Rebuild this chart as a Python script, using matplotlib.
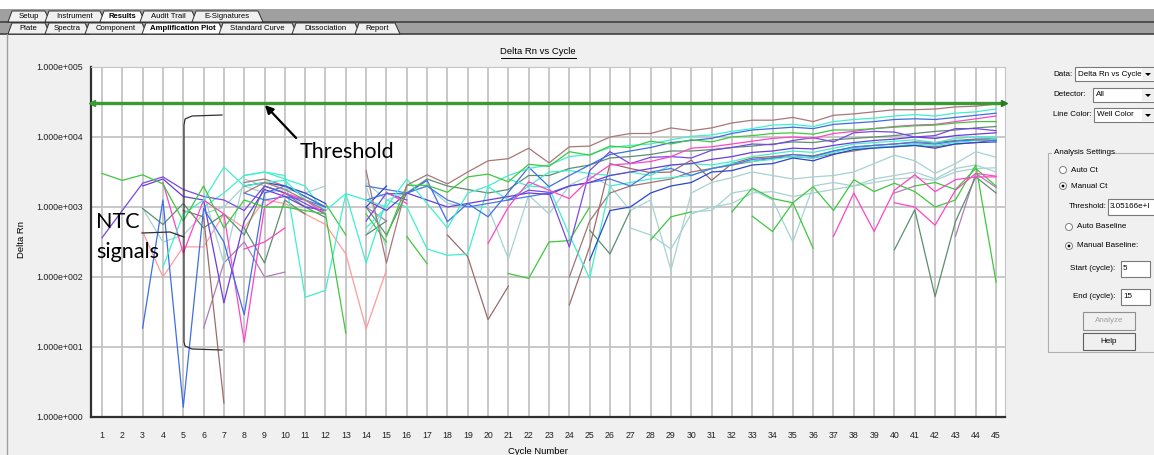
import matplotlib
matplotlib.use("Agg")
import matplotlib.pyplot as plt
import numpy as np
from matplotlib.patches import Rectangle, Polygon, Ellipse
from matplotlib.lines import Line2D

W, H = 1154, 455
UI = ['Liberation Sans', 'DejaVu Sans']
NOTE = ['Lato', 'DejaVu Sans']

# ---- data: log10(Delta Rn) per cycle, None = not drawn (negative after baseline) ----
n = None
cycles = list(range(1, 46))
threshold = 3.05166e4
y_ticks = [1e0, 1e1, 1e2, 1e3, 1e4, 1e5]
y_tick_labels = ['1.000e+000', '1.000e+001', '1.000e+002', '1.000e+003', '1.000e+004', '1.000e+005']

brown_a = [n, n, n, n, n, n, n, 3.2, 3.35, 3.25, 3.1, 2.95, n, 3.52, 2.2,
           3.31, 3.46, 3.33, 3.5, 3.66, 3.69, 3.84, 3.63, 3.86, 3.87, 4.0, 4.05, 4.05, 4.13, 4.09,
           4.13, 4.2, 4.24, 4.24, 4.28, 4.22, 4.31, 4.33, 4.36, 4.39, 4.39, 4.4, 4.43, 4.44, 4.47]
brown_b = [n, n, n, n, 2.95, 2.86, 0.2, n, n, n, n, n, n, n, n,
           n, n, 2.6, 2.29, 1.39, 1.87, n, n, 1.6, 2.43, 3.62, 3.55, 3.49, 3.5, 3.67,
           3.38, 3.62, 3.7, 3.72, 3.75, 3.73, 3.8, 3.85, 3.88, 3.9, 3.93, 3.92, 3.95, 3.97, 3.98]
brown_c = [n, n, n, n, n, n, n, 3.35, 3.4, 3.3, 3.15, 3.0, n, n, n,
           n, n, n, n, n, n, n, n, 2.0, 2.8, 3.2, 3.3, 3.35, 3.4, 3.5,
           3.55, 3.6, 3.65, 3.7, 3.72, 3.7, 3.76, 3.8, 3.85, 3.86, 3.88, 3.86, 3.9, 3.92, 3.96]
green_a = [3.48, 3.38, 3.46, 3.33, 2.8, 3.3, 2.7, 3.1, 3.0, 3.0, 2.95, 2.9, 1.2, n, 2.58,
           3.31, 3.31, 3.21, 3.43, 3.47, 3.36, 3.61, 3.58, 3.79, 3.74, 3.87, 3.85, 3.94, 3.9, 3.96,
           3.93, 4.0, 4.02, 4.05, 4.06, 4.04, 4.1, 4.1, 4.12, 4.14, 4.16, 4.17, 4.2, 4.22, 4.22]
green_c = [n, n, n, n, n, n, n, n, n, n, n, 3.05, 2.6, n, n,
           2.58, 2.19, n, n, n, 2.05, 1.98, 2.5, 2.52, 3.0, n, n, 2.53, 2.86, 2.93,
           n, 2.93, 3.27, 3.12, 3.06, 3.29, 2.95, 3.39, 3.22, 3.34, 3.22, 3.0, 3.1, 3.6, 1.93]
green_d = [n, n, n, n, n, n, n, n, n, n, n, n, n, 2.9, 2.5,
           n, n, n, n, n, n, n, n, n, n, n, n, n, n, n,
           n, n, 2.87, 2.65, 3.06, 2.41, n, n, n, n, 3.3, 3.35, 3.25, 3.55, 3.3]
cyan_a = [n, n, n, 2.14, 2.9, 3.1, 3.57, 3.3, 3.35, 3.38, 3.1, 2.95, 3.19, 3.1, 3.0,
          3.4, 3.05, 2.7, 3.2, 3.3, 3.45, 3.55, 3.6, 3.72, 3.75, 3.85, 3.88, 3.9, 3.96, 4.01,
          4.03, 4.08, 4.12, 4.17, 4.18, 4.15, 4.22, 4.25, 4.27, 4.3, 4.32, 4.3, 4.34, 4.36, 4.4]
cyan_b = [n, n, n, n, n, n, n, 3.45, 3.5, 3.45, 1.71, 1.81, 3.19, 2.2, 3.1,
          3.0, 2.4, 2.31, 2.33, 3.29, 3.1, 3.3, 3.28, 2.6, 1.98, 3.3, 3.35, 3.4, 3.42, 3.45,
          3.55, 3.62, 3.65, 3.68, 3.72, 3.7, 3.78, 3.84, 3.85, 3.87, 3.9, 3.88, 3.92, 3.95, 3.98]
cyan_c = [n, n, n, n, n, 3.0, 3.2, 3.45, 3.5, 3.4, 3.3, 2.9, n, 2.7, 3.0,
          n, n, n, n, n, 3.4, 3.3, 3.5, 3.52, 3.48, 3.45, 3.5, 3.45, 3.6, 3.62,
          3.6, 3.65, 3.72, 3.76, 3.8, 3.78, 3.84, 3.9, 3.92, 3.94, 3.96, 3.92, 3.98, 4.0, 4.0]
blue_a = [n, n, 1.27, 3.1, 0.14, 2.98, 2.5, 1.46, 3.2, 3.3, 3.15, 3.0, n, 3.1, 3.19,
          3.19, 3.38, 2.79, 3.05, 2.86, 3.21, 3.57, 3.29, 3.45, 3.6, 3.75, 3.8, 3.85, 3.92, 3.95,
          3.98, 4.05, 4.1, 4.12, 4.14, 4.12, 4.18, 4.2, 4.22, 4.25, 4.26, 4.25, 4.28, 4.31, 4.34]
blue_b = [n, n, n, n, n, n, n, 3.2, 3.1, 3.15, 3.1, 3.0, n, 3.3, 3.25,
          3.2, 3.3, 3.1, 3.0, 3.05, 3.1, 3.15, 3.2, 3.3, 3.35, 3.4, 3.3, 3.5, 3.55, 3.45,
          3.55, 3.6, 3.68, 3.7, 3.75, 3.72, 3.8, 3.86, 3.88, 3.9, 3.92, 3.9, 3.94, 3.96, 3.95]
dark_blue = [n, n, n, n, n, n, n, 3.3, 3.35, 3.3, 3.2, 3.05, n, 3.0, 3.3,
             n, n, n, n, n, n, n, n, n, 2.24, 2.95, 3.0, 3.2, 3.3, 3.35,
             3.5, 3.52, 3.6, 3.62, 3.7, 3.66, 3.75, 3.82, 3.84, 3.86, 3.88, 3.84, 3.9, 3.92, 3.93]
magenta_a = [n, n, n, 3.35, 2.34, 3.1, 2.9, 1.07, 3.0, 3.2, 3.1, 2.9, n, n, 3.21,
             3.05, n, n, n, 2.48, 3.0, 3.36, 3.24, 3.12, 3.4, 3.6, 3.62, 3.65, 3.72, 3.84,
             3.86, 3.9, 3.94, 3.98, 4.0, 3.98, 4.05, 4.08, 4.12, 4.15, 4.17, 4.18, 4.22, 4.26, 4.3]
magenta_b = [n, n, n, n, n, n, n, 2.4, 2.5, 2.7, n, n, n, n, n,
             n, n, n, n, n, n, n, n, n, n, n, n, n, n, n,
             n, n, n, n, n, n, 2.58, 3.2, 2.65, 3.24, 3.46, 3.22, 3.39, 3.43, 3.43]
magenta_c = [n, n, n, n, n, n, n, n, n, n, n, n, n, n, n,
             n, n, n, n, n, n, n, n, n, n, n, n, n, n, n,
             n, n, n, n, n, n, n, n, n, 3.06, 3.0, 2.74, 3.24, 3.48, 3.44]
purple_a = [2.56, 2.95, 3.34, 3.43, 3.25, 3.15, 3.1, 2.95, 3.3, 3.2, 3.05, 2.9, n, 2.8, 3.2,
            3.1, n, n, n, n, 3.1, 3.24, 3.21, 2.43, 3.52, 3.79, 3.62, 3.71, 3.72, 3.7,
            3.81, 3.85, 3.9, 3.89, 3.95, 3.99, 3.93, 4.06, 4.08, 4.07, 4.0, 4.02, 4.12, 4.12, 4.09]
purple_b = [n, n, 3.3, 3.4, 3.15, 3.1, 1.63, 2.8, 3.25, 3.15, 3.0, 2.95, n, 3.1, 2.95,
            3.2, 3.1, 3.0, 3.05, 3.1, 3.15, 3.2, 3.18, 3.3, 3.35, 3.45, 3.5, 3.55, 3.6, 3.62,
            3.68, 3.72, 3.78, 3.8, 3.84, 3.83, 3.88, 3.92, 3.95, 3.97, 4.0, 3.98, 4.02, 4.04, 4.06]
teal_a = [n, n, 2.98, 2.5, 2.6, 2.9, 3.0, 3.3, 3.2, 3.25, 3.2, 3.3, n, 3.35, 3.1,
          3.2, 3.3, 3.05, 3.0, 3.0, 2.26, 3.17, 2.9, 3.31, 3.45, 3.3, 2.95, 3.1, 2.1, 3.2,
          3.35, 3.42, 3.5, 3.45, 3.4, 3.43, 3.45, 3.5, 3.62, 3.74, 3.66, 3.48, 3.62, 3.79, 3.71]
teal_b = [n, n, n, n, n, 3.2, 2.2, 3.4, 3.3, 3.2, 3.1, n, n, 3.3, 2.4,
          n, n, n, n, n, n, n, n, n, n, n, n, n, n, 2.93,
          2.95, 3.2, 3.25, 3.1, 2.5, 3.3, 3.35, 3.3, 3.4, 3.45, 3.5, 3.4, 3.55, 3.6, 3.5]
teal_c = [n, n, n, n, n, n, n, n, n, n, n, n, n, 2.6, 3.0,
          n, n, n, n, n, n, n, n, n, n, n, 2.7, 2.6, 2.4, 2.9,
          3.0, 3.05, 3.2, 3.22, 3.15, 3.2, 3.25, 3.3, 3.35, 3.4, 3.42, 3.38, 3.5, 3.55, 3.56]
dkgreen_a = [n, n, 2.98, 2.75, 3.05, 2.7, 2.9, 2.6, 3.3, 3.2, 3.0, 2.85, n, 3.0, 2.6,
             3.2, 3.4, 3.3, 3.25, 3.2, 3.25, 3.45, 3.45, 3.55, 3.6, 3.7, 3.72, 3.75, 3.8, 3.8,
             3.82, 3.85, 3.87, 3.9, 3.93, 3.92, 3.96, 3.98, 4.0, 4.02, 4.05, 4.08, 4.1, 4.13, 4.15]
dkgreen_b = [n, n, n, n, n, n, n, 2.7, 2.2, 3.1, 2.9, n, n, 2.6, 2.8,
             n, n, n, n, n, n, n, n, n, 2.67, 2.33, 2.95, n, n, n,
             n, n, n, n, n, n, n, n, n, 2.39, 2.96, 1.72, 2.79, 3.43, 3.2]
salmon = [n, n, 2.65, 2.0, 2.43, 2.43, 2.9, 2.7, 3.1, 3.05, 2.9, 2.75, 2.33, 1.26, 2.1,
          n, n, n, n, n, n, n, n, n, n, n, n, n, n, n,
          n, n, n, n, n, n, n, n, n, n, n, n, n, n, n]
mauve = [n, n, n, n, n, 1.27, 2.2, 2.5, 2.0, 2.07, n, n, n, 3.0, 2.8,
         n, n, n, n, n, n, n, n, n, n, n, n, n, n, n,
         n, n, n, n, n, n, n, n, n, 3.2, 3.3, n, 2.58, 3.48, 3.28]

wells = [
    (salmon, '#ff9a9a'), (mauve, '#b07ab8'), (teal_a, '#a6d2d2'), (teal_b, '#a6d2d2'),
    (teal_c, '#a6d2d2'), (dkgreen_a, '#5c8e70'), (dkgreen_b, '#5c8e70'), (green_c, '#3ec83e'),
    (green_d, '#3ec83e'), (brown_b, '#9c6c6c'), (brown_c, '#a07474'), (cyan_b, '#3ff0cc'),
    (cyan_c, '#3ff0cc'), (blue_b, '#4a78e6'), (dark_blue, '#2a46cc'), (purple_b, '#6a3cdc'),
    (purple_a, '#7848e6'), (magenta_b, '#ff44c8'), (magenta_c, '#ff44c8'), (magenta_a, '#ff44c8'),
    (blue_a, '#3c6ee6'), (cyan_a, '#3ff0cc'), (green_a, '#3ec83e'), (brown_a, '#a87878'),
]


def fx(x):
    return x / W


def fy(y):
    return 1 - y / H


def box(x0, y0, x1, y1, fc='white', ec='#7a7a7a', lw=0.8, z=1):
    fig.add_artist(Rectangle((fx(x0), fy(y1)), fx(x1) - fx(x0), fy(y0) - fy(y1),
                             transform=fig.transFigure, fc=fc, ec=ec, lw=lw, zorder=z))


def line(xs, ys, color='#404040', lw=1.0, z=3):
    fig.add_artist(Line2D([fx(v) for v in xs], [fy(v) for v in ys], transform=fig.transFigure,
                          color=color, lw=lw, zorder=z))


def label(x, y, s, size=5.8, ha='left', va='center', color='black', weight='normal', family=UI, z=5, **kw):
    fig.text(fx(x), fy(y), s, fontsize=size, ha=ha, va=va, color=color, fontweight=weight,
             family=family, zorder=z, **kw)


def dot(x, y, r, fc, ec='none', z=3):
    fig.add_artist(Ellipse((fx(x), fy(y)), 2 * r / W, 2 * r / H, transform=fig.transFigure,
                           fc=fc, ec=ec, lw=0.7, zorder=z))


fig = plt.figure(figsize=(W / 100, H / 100), dpi=100, facecolor='#f0f0f0')

# ---- tab strip ----
box(0, 0, W, 9, fc='white', ec='none', lw=0, z=0)
box(0, 9, W, 34, fc='#a0a0a0', ec='none', lw=0, z=0)
line([0, W], [22, 22], color='#404040', lw=1.2, z=1)
line([0, W], [34, 34], color='#404040', lw=1.2, z=1)
row1 = [('Setup', 8, 45), ('Instrument', 45, 100), ('Results', 100, 140),
        ('Audit Trail', 140, 192), ('E-Signatures', 192, 258)]
row2 = [('Plate', 8, 45), ('Spectra', 45, 85), ('Component', 85, 142), ('Amplification Plot', 142, 219),
        ('Standard Curve', 219, 292), ('Dissociation', 292, 355), ('Report', 355, 395)]
for tabs, (yt, yb), bold in [(row1, (11, 22), 'Results'), (row2, (23, 34), 'Amplification Plot')]:
    for name, x0, x1 in tabs:
        sel = name == bold
        fig.add_artist(Polygon([(fx(x0), fy(yb)), (fx(x0 + 4), fy(yt)), (fx(x1), fy(yt)), (fx(x1 + 5), fy(yb))],
                               closed=True, transform=fig.transFigure,
                               fc='white' if sel else '#f0f0f0', ec='#303030', lw=0.7, zorder=2))
        label((x0 + x1) / 2 + 2, (yt + yb) / 2 + 0.5, name, size=5.6, ha='center',
              weight='bold' if sel else 'normal')

# panel frame
line([7, 7], [34, H], color='#a0a0a0', lw=1.0, z=1)

# ---- plot ----
ax = fig.add_axes([fx(91), fy(417), (1005 - 91) / W, (417 - 67) / H])
ax.set_facecolor('white')
for vals, col in wells:
    arr = np.array([np.nan if v is None else v for v in vals], dtype=float)
    ax.plot(cycles, 10 ** arr, color=col, lw=0.9, zorder=3)

ax.axhline(threshold, color='#3a9a34', lw=2.4, zorder=5)
ax.plot([0.52], [threshold], marker='<', color='#3a9a34', ms=4, zorder=6, clip_on=False)
ax.plot([45.4], [threshold], marker='>', color='#2a7a24', ms=4, zorder=6, clip_on=False)

ax.set_yscale('log')
ax.set_ylim(1, 1e5)
ax.set_xlim(0.46, 45.44)
ax.set_xticks(cycles)
ax.set_xticklabels([str(c) for c in cycles])
ax.set_yticks(y_ticks)
ax.set_yticklabels(y_tick_labels)
ax.yaxis.set_minor_locator(plt.NullLocator())
ax.tick_params(length=0, labelsize=6.3, colors='#202020')
ax.tick_params(axis='x', pad=10)
ax.tick_params(axis='y', pad=6)
for t in ax.get_xticklabels() + ax.get_yticklabels():
    t.set_family(UI)
ax.grid(True, color='#c4c4c4', lw=1.3, zorder=1)
ax.set_axisbelow(True)
for side in ['top', 'right']:
    ax.spines[side].set_color('#c4c4c4')
for side in ['left', 'bottom']:
    ax.spines[side].set_color('#303030')
    ax.spines[side].set_linewidth(1.6)

label(538, 52, 'Delta Rn vs Cycle', size=6.8, ha='center')
line([501, 576], [57.5, 57.5], color='black', lw=0.7)
label(22, 240, 'Delta Rn', size=6.8, ha='center', rotation=90)
label(538, 451, 'Cycle Number', size=6.8, ha='center')

# ---- annotations ----
label(300, 152, 'Threshold', size=15.5, family=NOTE)
ax.annotate('', xy=(fx(263), fy(103)), xycoords='figure fraction',
            xytext=(fx(298), fy(140)), textcoords='figure fraction',
            arrowprops=dict(arrowstyle='-|>', color='black', lw=1.6, mutation_scale=12))
label(96, 222, 'NTC', size=15.5, family=NOTE)
label(96, 252, 'signals', size=15.5, family=NOTE)
line([222, 192, 185, 184, 184, 185, 192, 222], [115, 116, 119, 125, 342, 346, 349, 350],
     color='#303030', lw=0.9, z=7)
line([142, 170, 184], [233, 232, 237], color='#303030', lw=0.9, z=7)

# ---- right panel ----
for y, lab in [(74, 'Data:'), (95, 'Detector:'), (115, 'Line Color:')]:
    label(1053, y, lab)
for y0, x0, val in [(67, 1075, 'Delta Rn vs Cycle'), (88, 1093, 'All'), (108, 1094, 'Well Color')]:
    box(x0, y0, 1160, y0 + 14, fc='white', ec='#7a7a7a', z=2)
    label(x0 + 3, y0 + 7, val)
    box(1142, y0 + 1, 1160, y0 + 13, fc='#f0f0f0', ec='none', z=3)
    fig.add_artist(Polygon([(fx(1145), fy(y0 + 6)), (fx(1151), fy(y0 + 6)), (fx(1148), fy(y0 + 9))],
                           closed=True, transform=fig.transFigure, fc='black', ec='none', zorder=4))

box(1048, 153, 1160, 352, fc='none', ec='#b0b0b0', z=1)
box(1052, 148, 1113, 158, fc='#f0f0f0', ec='none', z=2)
label(1054, 153, 'Analysis Settings')
radios = [(170, 1063, 'Auto Ct', False), (186, 1063, 'Manual Ct', True),
          (227, 1069, 'Auto Baseline', False), (246, 1069, 'Manual Baseline:', True)]
for y, x, txt, on in radios:
    dot(x, y, 3.5, 'white', ec='#808080')
    if on:
        dot(x, y, 1.4, 'black', z=4)
    label(x + 8, y, txt)
label(1069, 207, 'Threshold:')
box(1108, 199, 1160, 215, z=2)
label(1110, 207, '3.05166e+I')
label(1070, 269, 'Start (cycle):')
box(1121, 261, 1150, 277, z=2)
label(1123, 269, '5')
label(1073, 297, 'End (cycle):')
box(1121, 289, 1150, 305, z=2)
label(1123, 297, '15')
box(1083, 312, 1135, 330, fc='#f0f0f0', ec='#909090', z=2)
label(1109, 321, 'Analyze', ha='center', color='#a0a0a0')
box(1083, 333, 1135, 350, fc='#f0f0f0', ec='#606060', z=2)
label(1109, 341.5, 'Help', ha='center')

fig.savefig('out.png', dpi=100, facecolor=fig.get_facecolor())
